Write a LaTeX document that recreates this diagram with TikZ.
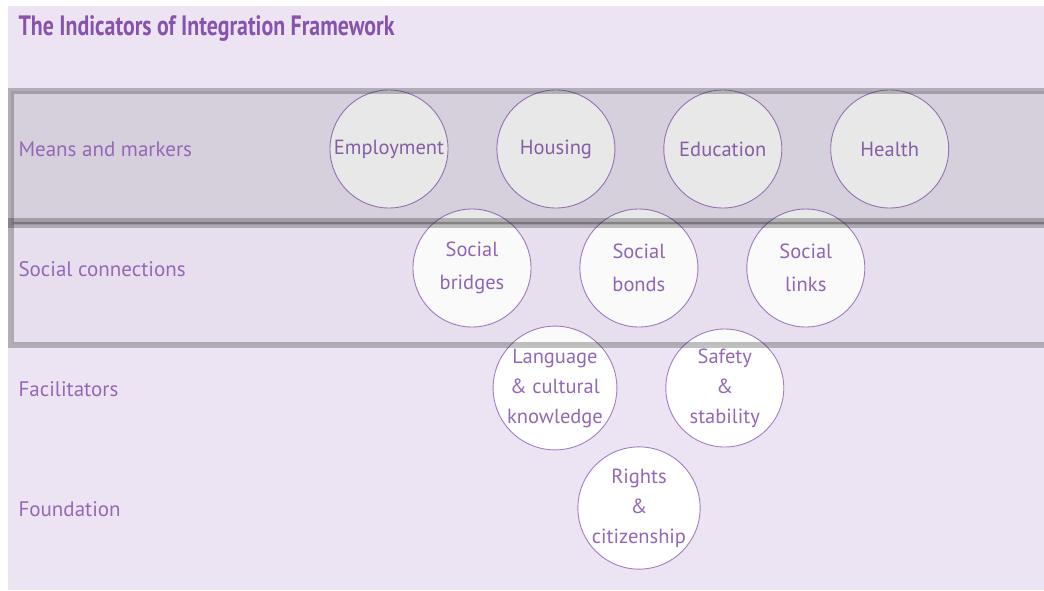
\documentclass[tikz,border=0pt]{standalone}
\usepackage{fontspec}
\setmainfont{PT Sans}
\newfontfamily\titlefont[FakeStretch=0.78]{PT Sans}
\usetikzlibrary{positioning}
\definecolor{lavender}{HTML}{ECE4F2}
\definecolor{plum text}{HTML}{9468B6}
\definecolor{plum title}{HTML}{8753AD}
\definecolor{plum line}{HTML}{A47DC4}
\tikzset{
  indicator/.style={
    circle,
    draw=plum line,
    fill=white,
    line width=0.9pt,
    minimum size=118pt,
    inner sep=0pt,
    align=center,
    text=plum text,
    font=\fontsize{20.5}{#1}\selectfont,
  },
  indicator/.default=30,
  level label/.style={
    anchor=west,
    text=plum text,
    font=\fontsize{21}{24}\selectfont,
  },
  band/.style={
    fill=black,
    fill opacity=#1,
    draw=black!90,
    draw opacity=0.27,
    line width=6pt,
  }
}

\begin{document}
\begin{tikzpicture}[x=1pt,y=-1pt,node distance=48pt]
        \useasboundingbox (0,0) rectangle (1044,590);
        \fill [lavender] (8,6) rectangle (1044,590);

        \node [anchor=west, text=plum title, font=\titlefont\bfseries\fontsize{28}{30}\selectfont] (title) at (15,29) {The Indicators of Integration Framework};

        % means and markers
        \node [indicator] (employment) at (389,149) {Employment};
        \node [indicator, right=of employment] (housing) {Housing};
        \node [indicator, right=of housing] (education) {Education};
        \node [indicator, right=of education] (health) {Health};

        % social connections
        \node [indicator=33] (bridges) at (472,268) {Social\\bridges};
        \node [indicator=33, right=of bridges] (bonds) {Social\\bonds};
        \node [indicator=33, right=of bonds] (links) {Social\\links};

        % facilitators
        \node [indicator] (language) at (555,388) {Language\\\& cultural\\knowledge};
        \node [indicator, right=of language] (safety) {Safety\\\&\\stability};

        % foundation
        \node [indicator] (rights) at (639,508) {Rights\\\&\\citizenship};

        \draw [band=0.09] (11,91) rectangle (1060,225);
        \draw [band=0.02] (11,221) rectangle (1060,345);

        \node [level label] (means) at (15,149) {Means and markers};
        \node [level label] (social) at (15,269) {Social connections};
        \node [level label] (facilitators) at (15,389) {Facilitators};
        \node [level label] (foundation) at (15,509) {Foundation};
      \end{tikzpicture}
\end{document}
